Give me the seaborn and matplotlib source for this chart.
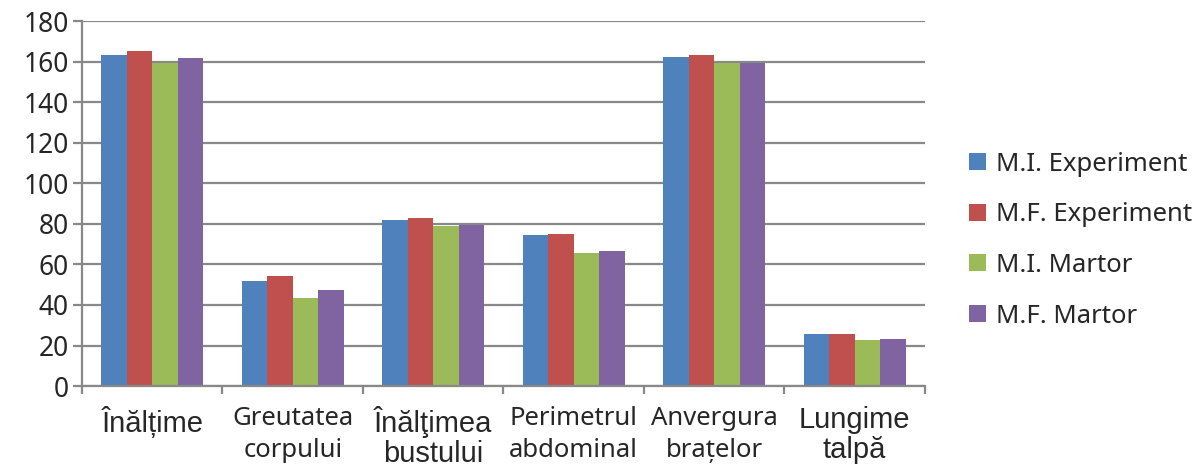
import pandas as pd
import seaborn as sns
import matplotlib.pyplot as plt

# data
categories = ['Înălțime', 'Greutatea\ncorpului', 'Înălţimea\nbustului',
              'Perimetrul\nabdominal', 'Anvergura\nbrațelor', 'Lungime\ntalpă']
series = ['M.I. Experiment', 'M.F. Experiment', 'M.I. Martor', 'M.F. Martor']
mi_exp = [163.2, 51.8, 81.9, 74.6, 162.4, 25.5]
mf_exp = [165.4, 54.2, 82.8, 75.0, 163.1, 25.5]
mi_mar = [159.4, 43.4, 79.0, 65.4, 159.3, 22.7]
mf_mar = [161.7, 47.3, 79.4, 66.4, 159.3, 23.3]
colors = ['#4F81BD', '#C0504D', '#9BBB59', '#8064A2']

df = pd.DataFrame({'cat': categories * 4,
                   'serie': [s for s in series for _ in categories],
                   'val': mi_exp + mf_exp + mi_mar + mf_mar})

sns.set_style('white')
plt.rcParams['font.family'] = ['Noto Sans', 'DejaVu Sans']

fig = plt.figure(figsize=(11.95, 4.72), dpi=100)
ax = fig.add_axes([0.0686, 0.182, 0.7054, 0.7733])

sns.barplot(data=df, x='cat', y='val', hue='serie', palette=colors,
            width=0.725, linewidth=0, saturation=1, ax=ax)

ax.set_ylim(0, 180)
ax.set_xlim(-0.5, 5.5)
ax.set_yticks(range(0, 181, 20))
ax.yaxis.grid(True, color='#888888', linewidth=1.6)
ax.set_axisbelow(True)
ax.set_xlabel('')
ax.set_ylabel('')
for s in ['top', 'right']:
    ax.spines[s].set_visible(False)
for s in ['left', 'bottom']:
    ax.spines[s].set_color('#888888')
    ax.spines[s].set_linewidth(1.6)

ax.tick_params(axis='y', left=True, length=6.5, width=1.6, color='#888888',
               labelsize=19, pad=3)
ax.tick_params(axis='x', which='major', bottom=False, pad=11)
ax.set_xticks([i - 0.5 for i in range(7)], minor=True)
ax.tick_params(axis='x', which='minor', bottom=True, length=6, width=1.6,
               color='#888888')

# some category labels use an Arial-like face in the original
arial = {0, 2, 5}
for i, lab in enumerate(ax.get_xticklabels()):
    if i in arial:
        lab.set_fontfamily(['Liberation Sans', 'DejaVu Sans'])
        lab.set_fontsize(21)
        lab.set_linespacing(1.1)
    else:
        lab.set_fontsize(18.5)
        lab.set_linespacing(1.35)

handles, labels = ax.get_legend_handles_labels()
ax.legend(handles, labels, loc='center left', bbox_to_anchor=(1.04, 0.40),
          frameon=False, fontsize=18.5, handlelength=0.65, handleheight=0.65,
          handletextpad=0.4, labelspacing=1.0, borderaxespad=0)

fig.savefig('out.png', dpi=100)
